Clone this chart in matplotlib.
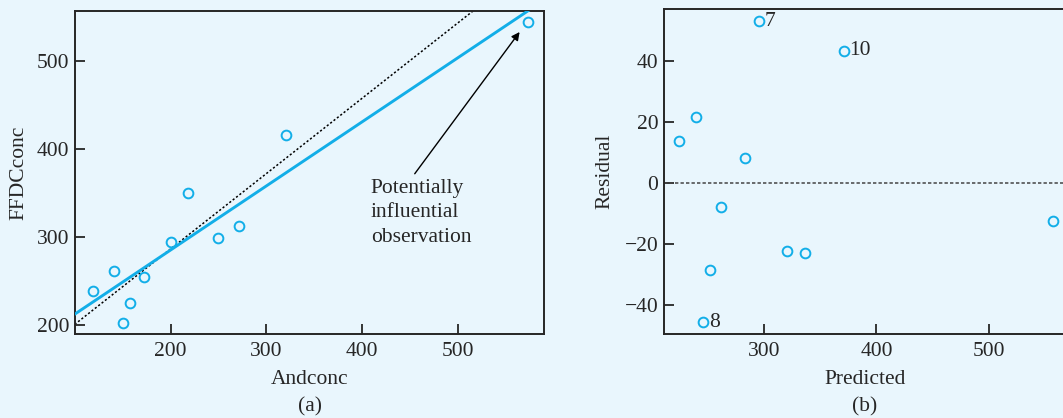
import matplotlib
matplotlib.use("Agg")
import matplotlib.pyplot as plt
import numpy as np

# Observed concentrations
andconc = [119, 141, 172, 158, 150, 200, 218, 250, 272, 321, 573]
ffdcconc = [239, 262, 255, 225, 202, 295, 350, 299, 313, 416, 544]

# Fitted line (all observations) and reference line (dotted)
fit_intercept, fit_slope = 139.7, 0.728
ref_intercept, ref_slope = 115.3, 0.856

# Residuals against predicted values
predicted = [224, 239, 295.5, 371, 283, 262, 252, 246, 320.5, 336, 557]
residual = [13.9, 21.6, 53.2, 43.4, 8.1, -7.9, -28.7, -45.8, -22.4, -23.1, -12.4]
point_ids = {2: "7", 3: "10", 7: "8"}

BG = "#E9F6FD"
CYAN = "#12AEE8"
INK = "#262626"
FS = 15.5

plt.rcParams["font.family"] = ["Liberation Serif", "DejaVu Serif"]
plt.rcParams["axes.unicode_minus"] = True

fig = plt.figure(figsize=(10.63, 4.18), dpi=100, facecolor=BG)

def style(ax):
    ax.set_facecolor(BG)
    for s in ax.spines.values():
        s.set_color(INK)
        s.set_linewidth(1.4)
    ax.tick_params(direction="in", length=7, width=1.3, color=INK,
                   labelsize=FS, labelcolor=INK, top=False, right=False)
    ax.tick_params(axis="x", pad=6)
    ax.tick_params(axis="y", pad=4)

# Panel (a): scatter with fitted lines
ax1 = fig.add_axes([0.0703, 0.201, 0.4415, 0.773])
style(ax1)
xs = np.array([100, 590])
ax1.plot(xs, ref_intercept + ref_slope * xs, color="black", lw=1.1,
         linestyle=(0, (1.4, 1.4)), zorder=2)
ax1.plot(xs, fit_intercept + fit_slope * xs, color=CYAN, lw=2.1, zorder=3)
ax1.plot(andconc, ffdcconc, "o", ms=7, mfc="none", mec=CYAN, mew=1.4, zorder=4)
ax1.set_xlim(100, 590)
ax1.set_ylim(190, 557)
ax1.set_xticks([200, 300, 400, 500])
ax1.set_yticks([200, 300, 400, 500])
ax1.set_xlabel("Andconc", fontsize=FS, color=INK, labelpad=6)
ax1.set_ylabel("FFDCconc", fontsize=FS, color=INK, labelpad=6)
ax1.annotate("", xy=(564.5, 533), xytext=(455, 372),
             arrowprops=dict(arrowstyle="-|>", color="black", lw=1.0,
                             mutation_scale=12, shrinkA=0, shrinkB=0))
ax1.text(409, 366, "Potentially\ninfluential\nobservation", fontsize=FS,
         color=INK, ha="left", va="top", linespacing=1.38)

# Panel (b): residuals vs predicted
ax2 = fig.add_axes([0.6244, 0.201, 0.3786, 0.7768])
style(ax2)
ax2.axhline(0, color="#444444", lw=1.1, linestyle=(0, (2.2, 1.4)), zorder=2)
ax2.plot(predicted, residual, "o", ms=7, mfc="none", mec=CYAN, mew=1.4, zorder=4)
for i, lab in point_ids.items():
    ax2.annotate(lab, (predicted[i], residual[i]), xytext=(4, 0),
                 textcoords="offset points", ha="left", va="center",
                 fontsize=FS, color=INK)
ax2.set_xlim(210.6, 569)
ax2.set_ylim(-49.6, 57.1)
ax2.set_xticks([300, 400, 500])
ax2.set_yticks([-40, -20, 0, 20, 40])
ax2.set_xlabel("Predicted", fontsize=FS, color=INK, labelpad=6)
ax2.set_ylabel("Residual", fontsize=FS, color=INK, labelpad=7)

fig.text(310 / 1063, 1 - 407 / 418, "(a)", fontsize=FS,
         color=INK, ha="center", va="center")
fig.text(865 / 1063, 1 - 407 / 418, "(b)", fontsize=FS,
         color=INK, ha="center", va="center")

fig.savefig("out.png", dpi=100, facecolor=BG)
